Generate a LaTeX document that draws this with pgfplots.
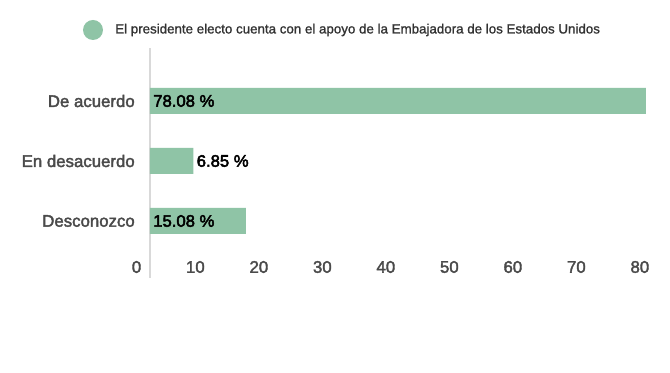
\documentclass[border=0pt]{standalone}
\usepackage{pgfplots}
\pgfplotsset{compat=1.18}
\usepackage{fontspec}
\setmainfont{Liberation Sans}
\newfontfamily\medfont{Liberation Sans}[FakeBold=2.2]
\newfontfamily\valfont{Liberation Sans}[FakeBold=3]
\newfontfamily\semifont{Liberation Sans}[FakeBold=1.2]
\definecolor{barc}{HTML}{8FC4A6}
\definecolor{lab}{HTML}{4A4A4A}
\begin{document}
\begin{tikzpicture}
\path[use as bounding box, fill=white] (-112.5pt,-71.25pt) rectangle (390pt,208.5pt);
\begin{axis}[
 at={(0,0)}, anchor=south west, scale only axis,
 width=381pt, height=172.5pt,
 xmin=0, xmax=80, ymin=-0.95, ymax=2.883,
 bar width=19.5pt,
 axis line style={draw=none},
 tick style={draw=none},
 xtick={0,10,...,80},
 ytick={0,1,2},
 yticklabels={Desconozco, En desacuerdo, De acuerdo},
 ticklabel style={font=\medfont\fontsize{12.6}{14}\selectfont, text=lab},
 xticklabel style={anchor=east, inner sep=0pt, xshift=-6.4pt, yshift=8.25pt},
 yticklabel style={anchor=east, inner sep=0pt, xshift=-11.25pt},
 /pgf/number format/assume math mode=true,
 clip=false,
]
\draw[color=black!15, line width=1.2pt] (axis cs:0,-0.95) -- (axis cs:0,2.883);
\addplot[xbar, fill=barc, draw=none] coordinates {(15.08,0) (6.85,1) (78.08,2)};
\addplot[only marks, mark=none,
  nodes near coords, point meta=explicit symbolic,
  nodes near coords style={anchor=west, inner sep=0pt, xshift=2.25pt,
    font=\valfont\fontsize{12.5}{14}\selectfont, text=black}]
  coordinates {(0,0)[15.08 \%] (6.85,1)[6.85 \%] (0,2)[78.08 \%]};
\end{axis}
\fill[barc] (-42.75pt,186pt) circle (7.5pt);
\node[anchor=west, inner sep=0pt, font=\semifont\fontsize{10}{12}\selectfont, text=black!80] at (-26.25pt,186pt) {El presidente electo cuenta con el apoyo de la Embajadora de los Estados Unidos};
\end{tikzpicture}
\end{document}
